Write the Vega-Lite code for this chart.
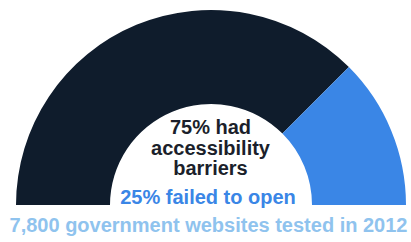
{
  "$schema": "https://vega.github.io/schema/vega-lite/v6.json",
  "width": 411,
  "height": 242,
  "autosize": {"type": "fit", "contains": "padding"},
  "padding": 0,
  "background": "white",
  "config": {"view": {"stroke": null}},
  "layer": [
    {
      "data": {"values": [
        {"category": "had accessibility barriers", "value": 75},
        {"category": "failed to open", "value": 25}
      ]},
      "mark": {"type": "arc", "radius": 195, "radius2": 101, "x": {"expr": "width/2 + 5.5"}, "y": {"expr": "height - 37"}, "stroke": null},
      "encoding": {
        "theta": {"field": "value", "type": "quantitative", "stack": true, "scale": {"range": [-1.5707963, 1.5707963]}},
        "order": {"field": "value", "sort": "descending"},
        "color": {"field": "category", "type": "nominal", "legend": null,
          "scale": {"domain": ["had accessibility barriers", "failed to open"], "range": ["#0f1c2c", "#3a86e6"]}}
      }
    },
    {
      "data": {"values": [{"label": "75% had\naccessibility\nbarriers"}]},
      "mark": {"type": "text", "lineBreak": "\n", "font": "Liberation Sans", "fontSize": 20, "fontWeight": "bold", "lineHeight": 20.5, "color": "#1b1f2b", "align": "center", "baseline": "middle", "x": {"expr": "width/2 + 5"}, "y": {"expr": "height - 114"}},
      "encoding": {"text": {"field": "label"}}
    },
    {
      "data": {"values": [{"label": "25% failed to open"}]},
      "mark": {"type": "text", "font": "Liberation Sans", "fontSize": 20, "fontWeight": "bold", "color": "#3a86e6", "align": "center", "baseline": "middle", "x": {"expr": "width/2 + 2.5"}, "y": {"expr": "height - 44"}},
      "encoding": {"text": {"field": "label"}}
    },
    {
      "data": {"values": [{"label": "7,800 government websites tested in 2012"}]},
      "mark": {"type": "text", "font": "Liberation Sans", "fontSize": 20, "fontWeight": "bold", "color": "#8fc3ee", "align": "center", "baseline": "middle", "x": {"expr": "width/2 + 3"}, "y": {"expr": "height - 16"}},
      "encoding": {"text": {"field": "label"}}
    }
  ]
}
